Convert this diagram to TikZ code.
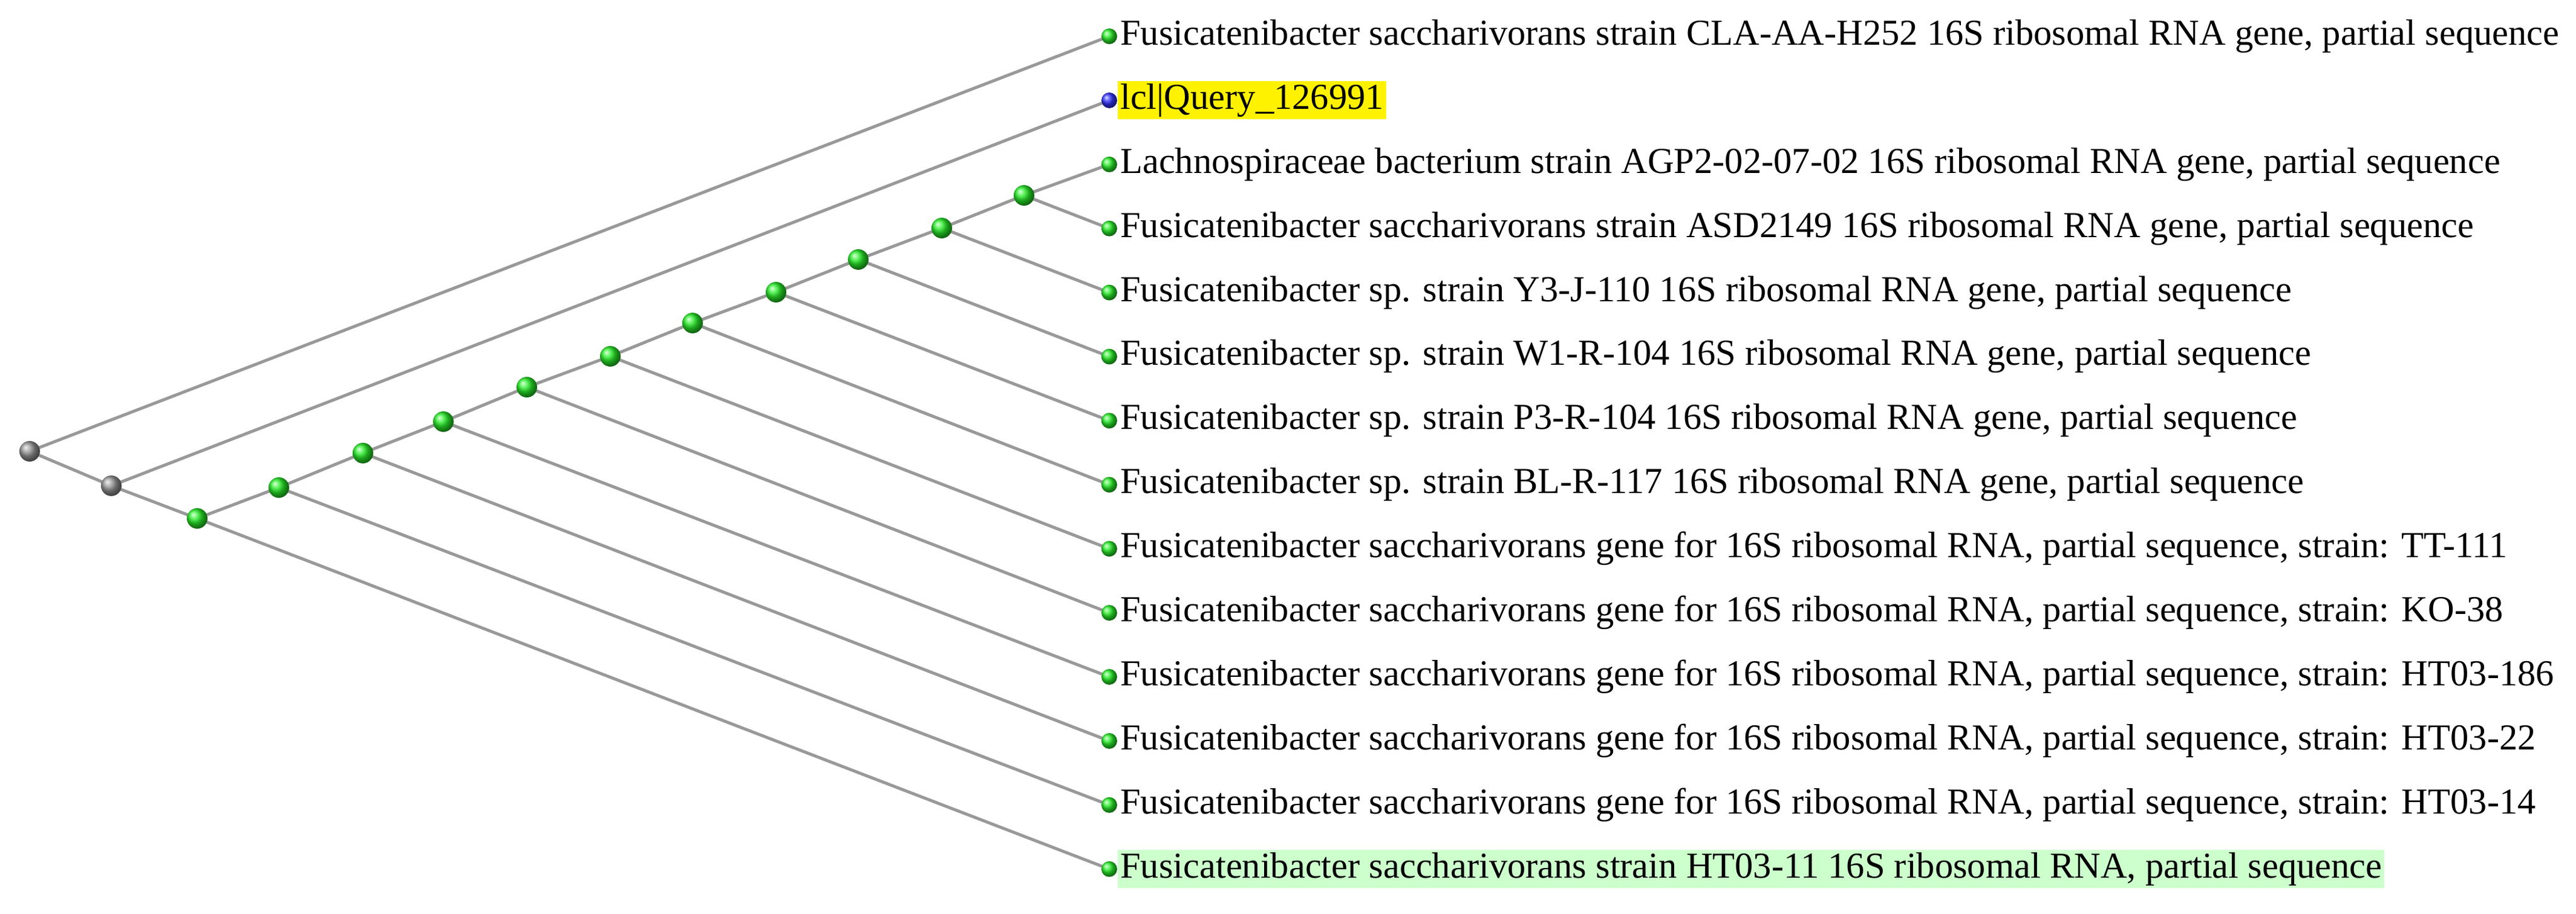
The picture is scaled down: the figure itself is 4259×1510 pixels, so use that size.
\documentclass[tikz,border=0pt]{standalone}
\usepackage{fontspec}
\setmainfont{Liberation Serif}
\definecolor{lime}{RGB}{40,240,40}
\begin{document}
\begin{tikzpicture}[x=1pt,y=-1pt,
  br/.style={draw=black!40,line width=5pt},
  gdot/.style={circle,inner sep=0,minimum size=34pt,ball color=lime,draw=none},
  kdot/.style={circle,inner sep=0,minimum size=34pt,ball color=gray!80},
  bdot/.style={circle,inner sep=0,minimum size=26pt,ball color=blue!80},
  lab/.style={anchor=west,inner sep=4pt,font=\fontsize{60.5}{64}\selectfont}]
\useasboundingbox (0,0) rectangle (4259,1510);
\def\lx{1834}
\foreach \i in {1,...,14}{\coordinate (p\i) at (\lx,{60+(\i-1)*105.9});}
\coordinate (r) at (49,746);
\coordinate (n2) at (184,803);
\coordinate (n3) at (326,857);
\coordinate (n4) at (461,806);
\coordinate (n5) at (600,749);
\coordinate (n6) at (733,697);
\coordinate (n7) at (871,640);
\coordinate (n8) at (1009,589);
\coordinate (n9) at (1145,534);
\coordinate (n10) at (1283,483);
\coordinate (n11) at (1419,429);
\coordinate (n12) at (1557,377);
\coordinate (n13) at (1693,323);
\draw[br] (r)--(p1) (r)--(n2) (n2)--(p2) (n2)--(n3) (n3)--(n4) (n3)--(p14)
 (n4)--(n5) (n4)--(p13) (n5)--(n6) (n5)--(p12) (n6)--(n7) (n6)--(p11)
 (n7)--(n8) (n7)--(p10) (n8)--(n9) (n8)--(p9) (n9)--(n10) (n9)--(p8)
 (n10)--(n11) (n10)--(p7) (n11)--(n12) (n11)--(p6) (n12)--(n13) (n12)--(p5)
 (n13)--(p3) (n13)--(p4);
\node[kdot] at (r) {}; \node[kdot] at (n2) {};
\foreach \n in {n3,n4,n5,n6,n7,n8,n9,n10,n11,n12,n13}{\node[gdot] at (\n) {};}
\foreach \i in {1,3,4,5,6,7,8,9,10,11,12,13,14}{\node[gdot,minimum size=26pt] at (p\i) {};}
\node[bdot] at (p2) {};
\node[lab] (t1) at ([xshift=14]p1) {Fusicatenibacter saccharivorans strain CLA-AA-H252 16S ribosomal RNA gene, partial sequence};
\node[lab,fill=yellow] (t2) at ([xshift=14]p2) {lcl|Query\_126991};
\node[lab] (t3) at ([xshift=14]p3) {Lachnospiraceae bacterium strain AGP2-02-07-02 16S ribosomal RNA gene, partial sequence};
\node[lab] (t4) at ([xshift=14]p4) {Fusicatenibacter saccharivorans strain ASD2149 16S ribosomal RNA gene, partial sequence};
\node[lab] (t5) at ([xshift=14]p5) {Fusicatenibacter sp. strain Y3-J-110 16S ribosomal RNA gene, partial sequence};
\node[lab] (t6) at ([xshift=14]p6) {Fusicatenibacter sp. strain W1-R-104 16S ribosomal RNA gene, partial sequence};
\node[lab] (t7) at ([xshift=14]p7) {Fusicatenibacter sp. strain P3-R-104 16S ribosomal RNA gene, partial sequence};
\node[lab] (t8) at ([xshift=14]p8) {Fusicatenibacter sp. strain BL-R-117 16S ribosomal RNA gene, partial sequence};
\node[lab] (t9) at ([xshift=14]p9) {Fusicatenibacter saccharivorans gene for 16S ribosomal RNA, partial sequence, strain: TT-111};
\node[lab] (t10) at ([xshift=14]p10) {Fusicatenibacter saccharivorans gene for 16S ribosomal RNA, partial sequence, strain: KO-38};
\node[lab] (t11) at ([xshift=14]p11) {Fusicatenibacter saccharivorans gene for 16S ribosomal RNA, partial sequence, strain: HT03-186};
\node[lab] (t12) at ([xshift=14]p12) {Fusicatenibacter saccharivorans gene for 16S ribosomal RNA, partial sequence, strain: HT03-22};
\node[lab] (t13) at ([xshift=14]p13) {Fusicatenibacter saccharivorans gene for 16S ribosomal RNA, partial sequence, strain: HT03-14};
\node[lab,fill=green!20] (t14) at ([xshift=14]p14) {Fusicatenibacter saccharivorans strain HT03-11 16S ribosomal RNA, partial sequence};
\end{tikzpicture}
\end{document}
